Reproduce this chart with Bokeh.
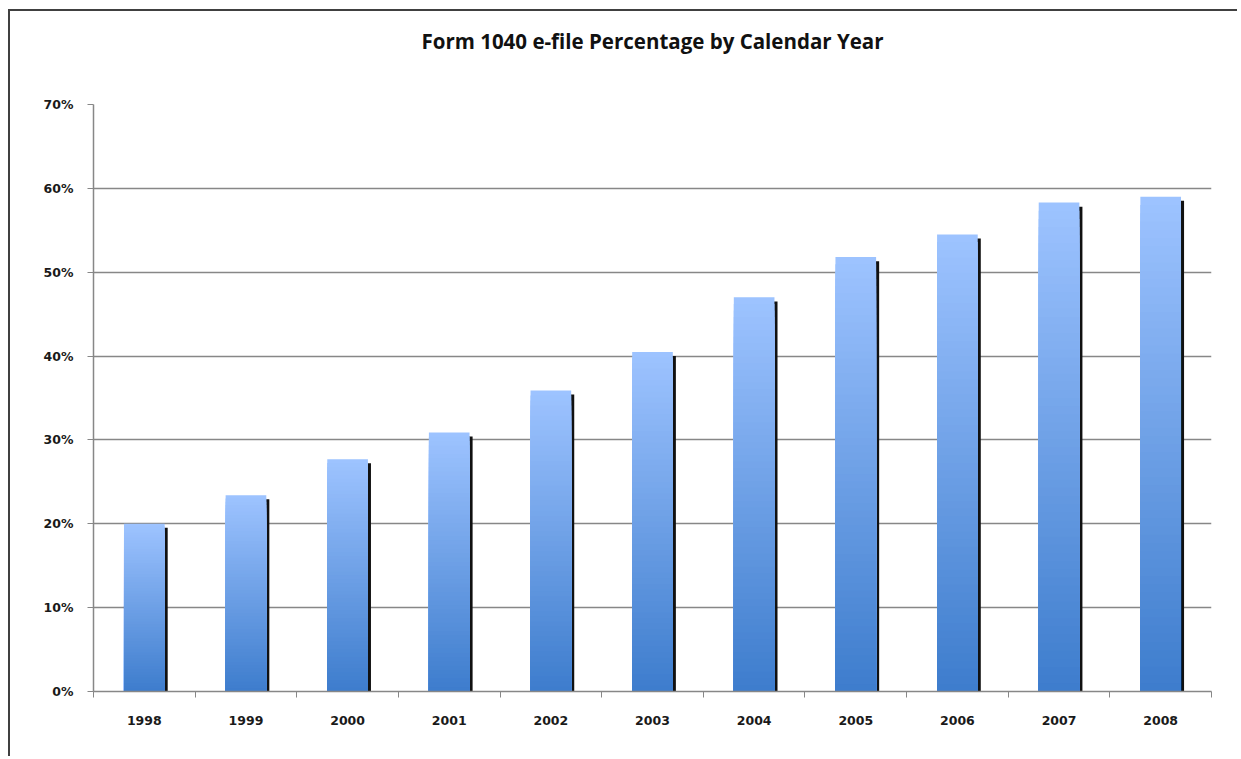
from bokeh.plotting import figure
from bokeh.models import Range1d, FixedTicker, LinearAxis
from bokeh.embed import file_html
from bokeh.resources import INLINE

years = ["1998", "1999", "2000", "2001", "2002", "2003", "2004", "2005", "2006", "2007", "2008"]
efile_pct = [20.0, 23.4, 27.7, 30.9, 35.9, 40.5, 47.0, 51.8, 54.5, 58.3, 59.0]
y_ticks = [0, 10, 20, 30, 40, 50, 60, 70]
y_tick_labels = ["0%", "10%", "20%", "30%", "40%", "50%", "60%", "70%"]
title_text = "Form 1040 e-file Percentage by Calendar Year"

TITLE_FONT = "Open Sans"
TICK_FONT = "DejaVu Sans"
GRID = "#878787"
TOP_RGB = (157, 195, 255)
BOT_RGB = (62, 125, 205)
BAR_W = 0.40
SH_DX = 0.03
SH_DY = 0.48
N_SLICES = 60

p = figure(width=1229, height=747, output_backend="svg", toolbar_location=None,
           x_range=Range1d(-0.5, len(years) - 0.5), y_range=Range1d(0, 70),
           title_location=None,
           min_border_left=83, min_border_right=28, min_border_top=93, min_border_bottom=67)
p.styles = {"border-top": "2px solid #404040", "border-left": "2px solid #404040",
            "margin-top": "9px", "margin-left": "8px"}
p.outline_line_color = None
p.background_fill_color = "white"
p.border_fill_color = "white"

# title: drawn as the label of an otherwise invisible axis above the plot area
title_axis = LinearAxis(ticker=FixedTicker(ticks=[]), bounds=(-0.5, 9.968),
                        axis_label=title_text, axis_label_standoff=50,
                        axis_label_text_font=TITLE_FONT, axis_label_text_font_size="20.5px",
                        axis_label_text_font_style="bold", axis_label_text_color="#111111",
                        axis_line_color=None, major_tick_line_color=None,
                        minor_tick_line_color=None, major_tick_out=0, major_tick_in=0,
                        minor_tick_out=0, minor_tick_in=0, major_label_standoff=0)
p.add_layout(title_axis, "above")

xs = list(range(len(years)))

# shadows
p.quad(left=[x - BAR_W / 2 + SH_DX for x in xs], right=[x + BAR_W / 2 + SH_DX for x in xs],
       bottom=0, top=[v - SH_DY for v in efile_pct], fill_color="#111111", line_color=None)

# gradient bars (stacked from lightest/full height to darkest/shortest)
lefts, rights, tops, colors = [], [], [], []
for k in range(N_SLICES):
    t = k / (N_SLICES - 1)
    r = round(TOP_RGB[0] + (BOT_RGB[0] - TOP_RGB[0]) * t)
    g = round(TOP_RGB[1] + (BOT_RGB[1] - TOP_RGB[1]) * t)
    b = round(TOP_RGB[2] + (BOT_RGB[2] - TOP_RGB[2]) * t)
    col = "#%02x%02x%02x" % (r, g, b)
    for x, v in zip(xs, efile_pct):
        lefts.append(x - BAR_W / 2)
        rights.append(x + BAR_W / 2)
        tops.append(v * (1 - k / N_SLICES))
        colors.append(col)
p.quad(left=lefts, right=rights, bottom=0, top=tops, fill_color=colors, line_color=None)

# axes
xaxis = p.below[0]
xaxis.ticker = FixedTicker(ticks=xs, minor_ticks=[x - 0.5 for x in xs] + [len(xs) - 0.5])
xaxis.major_label_overrides = {x: y for x, y in zip(xs, years)}
xaxis.major_tick_out = 0
xaxis.major_tick_in = 0
xaxis.minor_tick_out = 6
xaxis.minor_tick_in = 0
xaxis.minor_tick_line_color = GRID
xaxis.axis_line_color = GRID
xaxis.major_label_standoff = 18

yaxis = p.left[0]
yaxis.ticker = FixedTicker(ticks=y_ticks)
yaxis.major_label_overrides = {v: s for v, s in zip(y_ticks, y_tick_labels)}
yaxis.major_tick_out = 6
yaxis.major_tick_in = 0
yaxis.minor_tick_line_color = None
yaxis.major_tick_line_color = GRID
yaxis.axis_line_color = GRID
yaxis.major_label_standoff = 14

for ax in (xaxis, yaxis):
    ax.major_label_text_font = TICK_FONT
    ax.major_label_text_font_size = "12.5px"
    ax.major_label_text_font_style = "bold"
    ax.major_label_text_color = "#1a1a1a"
    ax.axis_line_width = 1.5

p.xgrid.grid_line_color = None
p.ygrid.ticker = FixedTicker(ticks=y_ticks)
p.ygrid.grid_line_color = GRID
p.ygrid.grid_line_width = 1.5

open("out.html", "w").write(file_html(p, INLINE))
